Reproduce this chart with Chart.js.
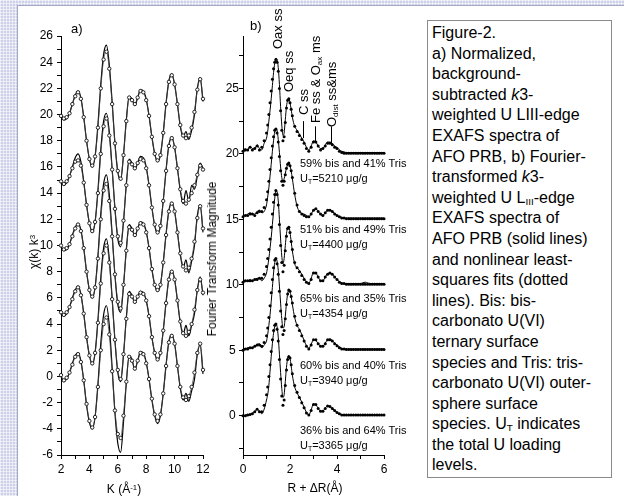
<!DOCTYPE html>
<html>
<head>
<meta charset="utf-8">
<script src="https://cdn.jsdelivr.net/npm/chart.js@4.4.0/dist/chart.umd.min.js"></script>
<style>
  html, body { margin: 0; padding: 0; }
  body {
    width: 624px; height: 496px; position: relative; overflow: hidden;
    font-family: "Liberation Sans", Arial, sans-serif; color: #000;
    background-color: #cdd0e8;
    background-image:
      repeating-linear-gradient(90deg, rgba(255,255,255,0.55) 0 1px, transparent 1px 3px),
      repeating-linear-gradient(0deg, rgba(255,255,255,0.55) 0 1px, transparent 1px 3px);
  }
  #sheet { position: absolute; left: 17px; top: 5px; right: 0; bottom: 0; background: #fff;
           border-left: 1px solid #a5a7c4; border-top: 1px solid #a5a7c4; }
  canvas { position: absolute; }
  .txt { position: absolute; white-space: nowrap; }
  .rot { transform: translate(-50%, -50%) rotate(-90deg); }
  .ctr { transform: translate(-50%, -50%); }
  .vlab { position: absolute; white-space: nowrap; transform-origin: 0 0;
          transform: rotate(-90deg) translateY(-50%); font-size: 13px; line-height: 15px; }
  .comp { position: absolute; left: 300px; font-size: 11px; line-height: 14.5px; white-space: nowrap; }
  sub { font-size: 0.62em; line-height: 0; vertical-align: -0.25em; }
  sup { font-size: 0.65em; line-height: 0; vertical-align: 0.45em; }
  #caption { position: absolute; left: 427px; top: 20px; width: 185px; height: 458px; box-sizing: border-box;
             border: 1px solid #8a8a8a; padding: 2px 0 0 4px; font-size: 16px; line-height: 20.6px;
             background: #fff; white-space: nowrap; }
</style>
</head>
<body>
<div id="sheet"></div>
<canvas id="chartA" width="200" height="490" style="left:18px; top:6px;"></canvas>
<canvas id="chartB" width="180" height="490" style="left:218px; top:6px;"></canvas>

<div class="txt" style="left:71px; top:21px; font-size:13px;">a)</div>
<div class="txt" style="left:250px; top:18px; font-size:13px;">b)</div>

<div class="txt rot" style="left:34px; top:252px; font-size:12px;">χ(k) k<sup>3</sup></div>
<div class="txt ctr" style="left:124px; top:489px; font-size:12px;">K (Å<sup>-1</sup>)</div>
<div class="txt rot" style="left:212px; top:259px; font-size:12px;">Fourier Transform Magnitude</div>
<div class="txt ctr" style="left:315px; top:488px; font-size:12px;">R + ΔR(Å)</div>

<div class="vlab" style="left:277px; top:49px;">Oax ss</div>
<div class="vlab" style="left:288px; top:92px;">Oeq ss</div>
<div class="vlab" style="left:303px; top:115px;">C ss</div>
<div class="vlab" style="left:315px; top:123px;">Fe ss &amp; O<sub>ax</sub> ms</div>
<div class="vlab" style="left:331px; top:127px;">O<sub>dist</sub> ss&amp;ms</div>

<div class="comp" style="top:156px;">59% bis and 41% Tris<br>U<sub>T</sub>=5210 μg/g</div>
<div class="comp" style="top:222px;">51% bis and 49% Tris<br>U<sub>T</sub>=4400 μg/g</div>
<div class="comp" style="top:291px;">65% bis and 35% Tris<br>U<sub>T</sub>=4354 μg/g</div>
<div class="comp" style="top:358px;">60% bis and 40% Tris<br>U<sub>T</sub>=3940 μg/g</div>
<div class="comp" style="top:423px;">36% bis and 64% Tris<br>U<sub>T</sub>=3365 μg/g</div>

<div id="caption">Figure-2.<br>a) Normalized,<br>background-<br>subtracted <i>k</i>3-<br>weighted U LIII-edge<br>EXAFS spectra of<br>AFO PRB, b) Fourier-<br>transformed <i>k</i>3-<br>weighted U L<sub>III</sub>-edge<br>EXAFS spectra of<br>AFO PRB (solid lines)<br>and nonlinear least-<br>squares fits (dotted<br>lines). Bis: bis-<br>carbonato U(VI)<br>ternary surface<br>species and Tris: tris-<br>carbonato U(VI) outer-<br>sphere surface<br>species. U<sub>T</sub> indicates<br>the total U loading<br>levels.</div>

<script>
// ---- panel a: k3-weighted EXAFS, chi(k)k^3 (curves already stacked) ----
const kValues = [
  2.0, 2.2, 2.4, 2.6, 2.8, 3.0, 3.2, 3.4, 3.6, 3.8,
  4.0, 4.2, 4.4, 4.6, 4.8, 5.0, 5.2, 5.4, 5.6, 5.8,
  6.0, 6.2, 6.4, 6.6, 6.8, 7.0, 7.2, 7.4, 7.6, 7.8,
  8.0, 8.2, 8.4, 8.6, 8.8, 9.0, 9.2, 9.4, 9.6, 9.8,
  10.0, 10.2, 10.4, 10.6, 10.8, 11.0, 11.2, 11.4, 11.6, 11.8,
  12.0
];
const chiData1 = [
  19.8, 19.6, 19.7, 20.1, 20.8, 21.5, 21.8, 21.3, 19.8, 18.0,
  16.6, 16.0, 16.8, 19.2, 22.3, 24.6, 25.3, 23.8, 21.0, 17.8,
  15.6, 15.0, 16.9, 19.6, 21.4, 21.2, 20.7, 21.3, 21.9, 21.8,
  21.2, 19.9, 18.3, 17.0, 16.4, 16.9, 18.6, 20.9, 22.6, 23.1,
  22.3, 20.8, 19.1, 18.3, 18.7, 18.1, 18.8, 20.0, 22.0, 22.8,
  21.0
];
const chiFit1 = [
  19.9, 19.7, 19.8, 20.1, 20.8, 21.4, 21.7, 21.2, 19.8, 18.0,
  16.6, 16.1, 16.8, 19.0, 22.0, 24.2, 24.8, 23.5, 20.8, 17.8,
  15.7, 15.1, 16.9, 19.5, 21.3, 21.1, 20.8, 21.3, 21.8, 21.7,
  21.1, 19.9, 18.3, 17.0, 16.5, 16.9, 18.6, 20.8, 22.5, 23.0,
  22.3, 20.8, 19.2, 18.4, 18.2, 18.4, 19.0, 20.2, 21.9, 22.7,
  21.2
];
const chiData2 = [
  14.8, 14.6, 14.8, 15.3, 16.0, 16.7, 17.0, 16.4, 14.9, 13.1,
  11.7, 11.0, 11.8, 14.2, 17.3, 19.5, 20.1, 18.7, 15.9, 12.8,
  10.5, 9.9, 11.8, 14.7, 16.6, 16.3, 15.8, 16.3, 16.8, 16.7,
  16.0, 14.6, 12.9, 11.5, 10.9, 11.5, 13.4, 15.8, 17.7, 18.3,
  17.5, 15.9, 14.2, 13.2, 14.2, 13.4, 14.6, 14.3, 15.3, 16.3,
  15.9
];
const chiFit2 = [
  14.9, 14.7, 14.9, 15.3, 15.9, 16.4, 16.5, 16.1, 14.8, 13.1,
  11.7, 11.1, 11.8, 14.0, 17.0, 19.1, 19.7, 18.4, 15.8, 12.8,
  10.7, 10.2, 11.9, 14.6, 16.4, 16.2, 15.9, 16.3, 16.6, 16.5,
  15.9, 14.6, 12.9, 11.6, 11.0, 11.5, 13.4, 15.7, 17.6, 18.2,
  17.5, 15.9, 14.3, 13.4, 13.2, 13.5, 14.0, 14.6, 15.4, 16.1,
  15.8
];
const chiData3 = [
  9.9, 9.6, 9.7, 10.1, 10.8, 11.4, 11.7, 11.2, 9.8, 8.0,
  6.6, 6.0, 6.8, 9.2, 12.4, 14.7, 15.4, 13.9, 10.9, 7.7,
  5.5, 4.9, 6.9, 9.7, 11.6, 11.3, 10.7, 11.3, 11.8, 11.7,
  11.1, 9.8, 8.2, 7.0, 6.5, 7.0, 8.7, 10.9, 12.7, 13.3,
  12.6, 11.0, 9.3, 8.3, 8.9, 7.9, 8.8, 10.0, 12.3, 13.1,
  11.0
];
const chiFit3 = [
  10.0, 9.7, 9.8, 10.1, 10.7, 11.3, 11.6, 11.1, 9.8, 8.0,
  6.6, 6.1, 6.8, 9.0, 12.0, 14.2, 14.7, 13.4, 10.7, 7.8,
  5.7, 5.2, 7.0, 9.6, 11.4, 11.2, 10.8, 11.3, 11.7, 11.6,
  11.0, 9.8, 8.2, 7.0, 6.6, 7.0, 8.7, 10.8, 12.6, 13.2,
  12.6, 11.0, 9.4, 8.4, 8.1, 8.3, 9.0, 10.3, 12.1, 13.0,
  11.3
];
const chiData4 = [
  4.8, 4.6, 4.8, 5.3, 6.0, 6.6, 6.9, 6.3, 4.8, 3.0,
  1.6, 0.9, 1.8, 4.3, 7.5, 9.8, 10.5, 9.0, 6.0, 2.7,
  0.3, -0.4, 1.6, 4.5, 6.5, 6.2, 5.6, 6.1, 6.5, 6.4,
  5.8, 4.6, 3.0, 1.8, 1.2, 1.8, 3.5, 5.7, 7.5, 8.1,
  7.4, 5.8, 4.1, 3.2, 3.9, 3.1, 3.9, 4.8, 6.6, 7.6,
  6.2
];
const chiFit4 = [
  4.9, 4.7, 4.9, 5.3, 5.9, 6.5, 6.8, 6.2, 4.8, 3.0,
  1.6, 1.0, 1.8, 4.1, 7.1, 9.4, 10.0, 8.7, 5.9, 2.8,
  0.5, -0.2, 1.7, 4.4, 6.3, 6.1, 5.7, 6.1, 6.4, 6.3,
  5.8, 4.6, 3.0, 1.8, 1.3, 1.8, 3.5, 5.6, 7.4, 8.0,
  7.4, 5.8, 4.2, 3.3, 3.1, 3.4, 4.0, 5.1, 6.6, 7.4,
  6.4
];
const chiData5 = [
  0.0, -0.4, -0.2, 0.3, 1.0, 1.6, 1.8, 1.2, -0.3, -2.2,
  -3.5, -4.0, -3.1, -0.6, 2.5, 4.7, 5.4, 3.9, 0.7, -2.8,
  -5.1, -5.8, -3.5, -0.5, 1.6, 1.3, 0.5, 1.2, 1.9, 1.8,
  1.1, -0.2, -1.8, -3.0, -3.6, -3.0, -1.3, 0.9, 2.7, 3.2,
  2.5, 0.8, -0.9, -1.8, -1.3, -1.9, -1.1, -0.2, 1.7, 2.4,
  0.2
];
const chiFit5 = [
  0.1, -0.3, -0.1, 0.3, 0.9, 1.5, 1.7, 1.1, -0.3, -2.1,
  -3.4, -3.9, -3.1, -0.8, 2.0, 4.0, 4.5, 3.2, 0.4, -2.6,
  -4.4, -4.7, -3.0, -0.4, 1.5, 1.2, 0.6, 1.2, 1.8, 1.7,
  1.0, -0.2, -1.7, -2.9, -3.4, -2.9, -1.3, 0.8, 2.6, 3.1,
  2.5, 0.8, -0.8, -1.6, -1.8, -1.5, -0.8, 0.3, 1.8, 2.5,
  0.5
];
const aXTicks = [2, 3, 4, 5, 6, 7, 8, 9, 10, 11, 12];
const aXLabels = [2, 4, 6, 8, 10, 12];
const aYTicks = [-6, -5, -4, -3, -2, -1, 0, 1, 2, 3, 4, 5, 6, 7, 8, 9, 10,
  11, 12, 13, 14, 15, 16, 17, 18, 19, 20, 21, 22, 23, 24, 25, 26];
const aYLabels = [-6, -4, -2, 0, 2, 4, 6, 8, 10, 12, 14, 16, 18, 20, 22, 24, 26];

// ---- panel b: Fourier transform magnitude (curves already stacked) ----
const rValues = [
  0, 0.1, 0.2, 0.3, 0.4, 0.5, 0.6, 0.7, 0.8, 0.9,
  1.0, 1.05, 1.1, 1.15, 1.2, 1.25, 1.3, 1.35, 1.4, 1.45,
  1.5, 1.55, 1.6, 1.65, 1.7, 1.75, 1.8, 1.85, 1.9, 1.95,
  2.0, 2.05, 2.1, 2.2, 2.3, 2.4, 2.5, 2.6, 2.7, 2.8,
  2.9, 3.0, 3.1, 3.2, 3.3, 3.4, 3.5, 3.6, 3.7, 3.8,
  3.9, 4.0, 4.1, 4.2, 4.3, 4.4, 4.5, 4.6, 4.7, 4.8,
  4.9, 5.0, 5.1, 5.2, 5.3, 5.4, 5.5, 5.6, 5.7, 5.8,
  5.9, 6.0
];
const ftData1 = [
  20.3, 20.4, 20.3, 20.6, 20.4, 20.4, 20.7, 20.4, 20.3, 20.8,
  21.2, 21.7, 22.5, 23.3, 24.2, 25.2, 26.2, 26.9, 27.3, 27.2,
  26.6, 25.3, 23.6, 22.2, 21.4, 21.6, 22.6, 23.6, 24.1, 24.25,
  23.9, 23.4, 22.8, 22.1, 21.8, 21.5, 21.2, 20.9, 20.5, 20.3,
  20.6, 21.0, 20.9, 20.6, 20.4, 20.4, 20.7, 20.9, 20.9, 20.8,
  20.6, 20.5, 20.3, 20.2, 20.15, 20.1, 20.1, 20.1, 20.1, 20.1,
  20.1, 20.1, 20.1, 20.1, 20.1, 20.1, 20.1, 20.1, 20.1, 20.1,
  20.1, 20.1
];
const ftFit1 = [
  20.2, 20.3, 20.3, 20.5, 20.3, 20.4, 20.6, 20.3, 20.5, 21.0,
  21.6, 22.2, 23.0, 23.9, 24.8, 25.7, 26.5, 27.0, 27.2, 27.0,
  26.3, 25.0, 23.3, 21.8, 21.0, 21.3, 22.4, 23.5, 24.1, 24.2,
  23.9, 23.4, 22.9, 22.1, 21.7, 21.4, 21.1, 20.8, 20.4, 20.2,
  20.5, 20.9, 20.9, 20.6, 20.3, 20.4, 20.6, 20.8, 20.8, 20.7,
  20.5, 20.4, 20.2, 20.1, 20.05, 20.05, 20.05, 20.05, 20.05, 20.05,
  20.05, 20.05, 20.05, 20.05, 20.05, 20.05, 20.05, 20.05, 20.05, 20.05,
  20.05, 20.05
];
const ftData2 = [
  15.3, 15.3, 15.4, 15.5, 15.4, 15.4, 15.6, 15.7, 15.5, 15.6,
  16.1, 16.7, 17.4, 18.3, 19.2, 20.2, 21.0, 21.7, 21.95, 21.8,
  21.1, 20.1, 19.0, 18.2, 17.9, 18.1, 18.5, 18.9, 19.2, 19.3,
  19.1, 18.7, 18.1, 16.9, 16.0, 15.6, 15.45, 15.4, 15.3, 15.2,
  15.4, 15.7, 15.8, 15.6, 15.35, 15.3, 15.5, 15.7, 15.75, 15.6,
  15.45, 15.3, 15.2, 15.15, 15.1, 15.1, 15.1, 15.1, 15.1, 15.1,
  15.1, 15.1, 15.1, 15.1, 15.1, 15.1, 15.1, 15.1, 15.1, 15.1,
  15.1, 15.1
];
const ftFit2 = [
  15.2, 15.3, 15.3, 15.4, 15.4, 15.3, 15.5, 15.6, 15.6, 15.9,
  16.5, 17.1, 17.9, 18.8, 19.7, 20.6, 21.3, 21.8, 21.9, 21.6,
  20.9, 19.8, 18.7, 17.9, 17.6, 17.9, 18.4, 18.9, 19.2, 19.3,
  19.1, 18.7, 18.2, 17.0, 16.1, 15.6, 15.4, 15.3, 15.2, 15.2,
  15.4, 15.7, 15.8, 15.6, 15.4, 15.3, 15.5, 15.7, 15.7, 15.6,
  15.4, 15.3, 15.2, 15.1, 15.1, 15.05, 15.05, 15.05, 15.05, 15.05,
  15.05, 15.05, 15.05, 15.05, 15.05, 15.05, 15.05, 15.05, 15.05, 15.05,
  15.05, 15.05
];
const ftData3 = [
  10.3, 10.3, 10.3, 10.4, 10.3, 10.4, 10.5, 10.5, 10.3, 10.5,
  10.9, 11.4, 12.0, 12.8, 13.6, 14.6, 15.6, 16.6, 17.2, 17.1,
  16.4, 15.0, 13.5, 12.2, 11.6, 12.0, 13.0, 13.9, 14.4, 14.45,
  14.0, 13.3, 12.6, 11.6, 11.3, 11.1, 10.8, 10.5, 10.2, 10.1,
  10.5, 10.95, 10.9, 10.6, 10.3, 10.3, 10.6, 10.85, 10.9, 10.8,
  10.6, 10.4, 10.25, 10.15, 10.1, 10.1, 10.1, 10.1, 10.1, 10.1,
  10.1, 10.1, 10.15, 10.2, 10.15, 10.1, 10.1, 10.1, 10.1, 10.1,
  10.1, 10.1
];
const ftFit3 = [
  10.2, 10.3, 10.3, 10.3, 10.3, 10.4, 10.4, 10.5, 10.5, 10.8,
  11.4, 12.0, 12.7, 13.5, 14.4, 15.4, 16.3, 16.9, 17.2, 16.9,
  16.1, 14.6, 13.0, 11.7, 11.0, 11.5, 12.6, 13.7, 14.3, 14.4,
  14.0, 13.3, 12.7, 11.7, 11.3, 11.0, 10.7, 10.4, 10.2, 10.1,
  10.4, 10.9, 10.9, 10.6, 10.3, 10.3, 10.6, 10.8, 10.9, 10.8,
  10.6, 10.4, 10.2, 10.1, 10.1, 10.05, 10.05, 10.05, 10.05, 10.05,
  10.05, 10.05, 10.05, 10.05, 10.05, 10.05, 10.05, 10.05, 10.05, 10.05,
  10.05, 10.05
];
const ftData4 = [
  5.1, 5.1, 5.2, 5.2, 5.2, 5.3, 5.45, 5.5, 5.2, 5.4,
  5.7, 6.2, 6.9, 7.7, 8.7, 9.8, 10.9, 11.7, 12.0, 11.8,
  11.1, 9.9, 8.6, 7.4, 6.7, 6.8, 7.6, 8.6, 9.3, 9.65,
  9.5, 9.1, 8.5, 7.5, 6.9, 6.6, 6.2, 5.75, 5.35, 5.15,
  5.45, 5.8, 5.75, 5.5, 5.3, 5.3, 5.55, 5.8, 5.85, 5.75,
  5.55, 5.4, 5.25, 5.15, 5.1, 5.1, 5.1, 5.1, 5.1, 5.1,
  5.1, 5.1, 5.1, 5.1, 5.1, 5.1, 5.1, 5.1, 5.1, 5.1,
  5.1, 5.1
];
const ftFit4 = [
  5.0, 5.1, 5.1, 5.2, 5.2, 5.3, 5.4, 5.4, 5.3, 5.6,
  6.1, 6.7, 7.5, 8.4, 9.4, 10.4, 11.3, 11.9, 12.0, 11.6,
  10.8, 9.5, 8.0, 6.8, 6.2, 6.5, 7.4, 8.5, 9.3, 9.6,
  9.5, 9.1, 8.6, 7.6, 6.9, 6.5, 6.1, 5.7, 5.3, 5.1,
  5.4, 5.8, 5.8, 5.5, 5.3, 5.3, 5.5, 5.8, 5.8, 5.7,
  5.5, 5.35, 5.2, 5.1, 5.1, 5.05, 5.05, 5.05, 5.05, 5.05,
  5.05, 5.05, 5.05, 5.05, 5.05, 5.05, 5.05, 5.05, 5.05, 5.05,
  5.05, 5.05
];
const ftData5 = [
  0.0, 0.05, 0.1, 0.1, 0.2, 0.3, 0.5, 0.35, 0.15, 0.5,
  1.2, 1.6, 2.3, 3.4, 4.5, 5.5, 6.3, 6.8, 7.0, 6.8,
  6.0, 4.7, 3.3, 2.1, 1.4, 1.6, 2.6, 3.7, 4.4, 4.6,
  4.4, 3.8, 3.1, 2.2, 1.75, 1.4, 1.05, 0.65, 0.25, 0.05,
  0.45, 0.9, 0.85, 0.55, 0.35, 0.35, 0.6, 0.75, 0.7, 0.55,
  0.4, 0.25, 0.15, 0.08, 0.05, 0.05, 0.05, 0.05, 0.05, 0.05,
  0.05, 0.05, 0.05, 0.05, 0.05, 0.05, 0.05, 0.05, 0.05, 0.05,
  0.05, 0.05
];
const ftFit5 = [
  0.0, 0.0, 0.05, 0.1, 0.15, 0.3, 0.5, 0.3, 0.3, 0.8,
  1.6, 2.2, 3.0, 3.9, 4.9, 5.8, 6.5, 6.9, 7.0, 6.6,
  5.7, 4.3, 2.8, 1.5, 0.8, 1.2, 2.3, 3.5, 4.3, 4.5,
  4.4, 3.9, 3.2, 2.3, 1.8, 1.4, 1.0, 0.6, 0.2, 0.05,
  0.4, 0.85, 0.85, 0.55, 0.35, 0.35, 0.55, 0.75, 0.7, 0.55,
  0.4, 0.25, 0.15, 0.05, 0.05, 0.05, 0.05, 0.05, 0.05, 0.05,
  0.05, 0.05, 0.05, 0.05, 0.05, 0.05, 0.05, 0.05, 0.05, 0.05,
  0.05, 0.05
];
const bXTicks = [0, 1, 2, 3, 4, 5, 6];
const bXLabels = [0, 2, 4, 6];
const bYTicks = [-2.5, 0, 2.5, 5, 7.5, 10, 12.5, 15, 17.5, 20, 22.5, 25, 27.5];
const bYLabels = [0, 5, 10, 15, 20, 25];

// peak marker leader lines (R position, top and bottom in magnitude units)
const markerR = [2.55, 3.05, 3.76];
const markerTop = [22.5, 22.1, 22.1];
const markerBottom = [21.2, 20.95, 20.75];

Chart.defaults.font.family = '"Liberation Sans", Arial, sans-serif';
Chart.defaults.font.size = 12;
Chart.defaults.color = '#000';

function pts(xs, ys) {
  return xs.map((x, i) => ({ x: x, y: ys[i] }));
}

function axis(min, max, tickList, labelList, opts) {
  return Object.assign({
    type: 'linear', min: min, max: max,
    afterBuildTicks: s => { s.ticks = tickList.map(v => ({ value: v })); },
    ticks: {
      autoSkip: false, maxRotation: 0, color: '#000',
      callback: v => labelList.includes(v) ? String(v) : ''
    },
    grid: { drawOnChartArea: false, drawTicks: true, tickLength: 4, color: '#000', lineWidth: 1 },
    border: { display: true, color: '#000', width: 1 }
  }, opts);
}

// Panel a: open circles = fit, solid line = data
const fitA = [chiFit1, chiFit2, chiFit3, chiFit4, chiFit5].map(ys => ({
  data: pts(kValues, ys),
  borderColor: '#444', borderWidth: 0.8,
  pointRadius: 1.7, pointBorderWidth: 0.9, pointBorderColor: '#111', pointBackgroundColor: '#fff',
  cubicInterpolationMode: 'monotone', clip: 4
}));
const dataA = [chiData1, chiData2, chiData3, chiData4, chiData5].map(ys => ({
  data: pts(kValues, ys),
  borderColor: '#000', borderWidth: 1.2, pointRadius: 0,
  cubicInterpolationMode: 'monotone', clip: 4
}));

const xA = axis(2, 12, aXTicks, aXLabels, { afterFit: s => { s.height = 41; } });
xA.ticks.padding = 3;
const yA = axis(-6, 26, aYTicks, aYLabels, { afterFit: s => { s.width = 43; } });
yA.ticks.padding = 4;

new Chart(document.getElementById('chartA'), {
  type: 'line',
  data: { datasets: fitA.concat(dataA) },
  options: {
    responsive: false, animation: false, events: [],
    layout: { padding: { left: 0, right: 15, top: 30, bottom: 0 } },
    plugins: { legend: { display: false }, tooltip: { enabled: false } },
    scales: { x: xA, y: yA }
  }
});

// Panel b: black dots = fit, solid line = data
const fitB = [ftFit1, ftFit2, ftFit3, ftFit4, ftFit5].map(ys => ({
  data: pts(rValues, ys),
  showLine: false,
  pointRadius: 1.5, pointBorderWidth: 0, pointBackgroundColor: '#000', clip: 4
}));
const dataB = [ftData1, ftData2, ftData3, ftData4, ftData5].map(ys => ({
  data: pts(rValues, ys),
  borderColor: '#000', borderWidth: 1, pointRadius: 0,
  cubicInterpolationMode: 'monotone', clip: 4
}));

const xB = axis(0, 6, bXTicks, bXLabels, { afterFit: s => { s.height = 41; } });
xB.ticks.padding = 3;
const yB = axis(-3, 29, bYTicks, bYLabels, { afterFit: s => { s.width = 25; } });
yB.ticks.padding = 0;
yB.ticks.crossAlign = 'center';

const leaderLines = {
  id: 'leaderLines',
  afterDatasetsDraw(chart) {
    const { ctx, scales: { x, y } } = chart;
    ctx.save();
    ctx.strokeStyle = '#000';
    ctx.lineWidth = 1;
    markerR.forEach((r, i) => {
      const px = Math.round(x.getPixelForValue(r)) + 0.5;
      ctx.beginPath();
      ctx.moveTo(px, y.getPixelForValue(markerTop[i]));
      ctx.lineTo(px, y.getPixelForValue(markerBottom[i]));
      ctx.stroke();
    });
    ctx.restore();
  }
};

new Chart(document.getElementById('chartB'), {
  type: 'line',
  data: { datasets: fitB.concat(dataB) },
  options: {
    responsive: false, animation: false, events: [],
    layout: { padding: { left: 0, right: 14, top: 30, bottom: 0 } },
    plugins: { legend: { display: false }, tooltip: { enabled: false } },
    scales: { x: xB, y: yB }
  },
  plugins: [leaderLines]
});
</script>
</body>
</html>
